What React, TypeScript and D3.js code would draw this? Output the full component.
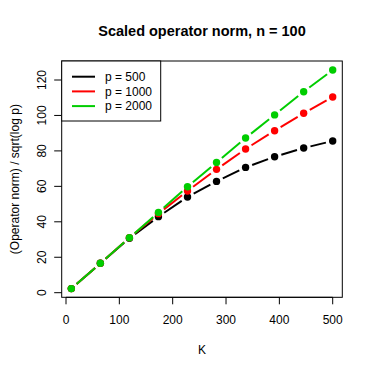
import React from "react";
import * as d3 from "d3";

const kValues = [10, 64.4, 118.9, 173.3, 227.8, 282.2, 336.7, 391.1, 445.6, 500];
const p500 = [2.3, 16.6, 30.7, 42.9, 54.0, 62.8, 70.7, 76.7, 81.6, 85.6];
const p1000 = [2.3, 16.6, 31.0, 44.6, 57.4, 69.6, 81.1, 91.4, 101.2, 110.4];
const p2000 = [2.3, 16.6, 31.0, 45.3, 59.8, 73.5, 87.3, 100.3, 113.4, 125.6];
const seriesNames = ["p = 500", "p = 1000", "p = 2000"];
const seriesColors = ["#000000", "#ff0000", "#00cd00"];
const xTicks = [0, 100, 200, 300, 400, 500];
const yTicks = [0, 20, 40, 60, 80, 100, 120];

const W = 374;
const H = 374;
const box = { left: 61.7, right: 342.3, top: 61, bottom: 297.3 };
const font = "Liberation Sans, Arial, Helvetica, sans-serif";

export default function App() {
  const x = d3.scaleLinear().domain([0, 500]).range([66, 332.7]);
  const y = d3.scaleLinear().domain([0, 120]).range([292.7, 80]);
  const series = [p500, p1000, p2000];
  const gap = 7; // type="b" leaves a gap around each point

  return (
    <svg width={W} height={H} style={{ position: "absolute", left: 0, top: 0 }} fontFamily={font}>
      <rect width={W} height={H} fill="#fff" />
      <text x={(box.left + box.right) / 2} y={36} textAnchor="middle" fontSize={14.5} fontWeight="bold">
        Scaled operator norm, n = 100
      </text>

      {/* series: segments with gaps, then points */}
      {series.map((vals, s) => (
        <g key={s}>
          {vals.slice(1).map((v, i) => {
            const x0 = x(kValues[i]), y0 = y(vals[i]);
            const x1 = x(kValues[i + 1]), y1 = y(v);
            const len = Math.hypot(x1 - x0, y1 - y0);
            if (len <= 2 * gap) return null;
            const ux = (x1 - x0) / len, uy = (y1 - y0) / len;
            return (
              <line key={i}
                x1={x0 + ux * gap} y1={y0 + uy * gap}
                x2={x1 - ux * gap} y2={y1 - uy * gap}
                stroke={seriesColors[s]} strokeWidth={2} />
            );
          })}
          {vals.map((v, i) => (
            <circle key={i} cx={x(kValues[i])} cy={y(v)} r={3.7} fill={seriesColors[s]} />
          ))}
        </g>
      ))}

      <rect x={box.left} y={box.top} width={box.right - box.left} height={box.bottom - box.top}
        fill="none" stroke="#000" strokeWidth={1} />

      {/* x axis */}
      <line x1={x(0)} x2={x(500)} y1={box.bottom} y2={box.bottom} stroke="#000" />
      {xTicks.map((t) => (
        <g key={t}>
          <line x1={x(t)} x2={x(t)} y1={box.bottom} y2={box.bottom + 7} stroke="#000" />
          <text x={x(t)} y={324} textAnchor="middle" fontSize={12}>{t}</text>
        </g>
      ))}
      <text x={(box.left + box.right) / 2} y={354} textAnchor="middle" fontSize={12}>K</text>

      {/* y axis */}
      {yTicks.map((t) => (
        <g key={t}>
          <line x1={box.left - 7.5} x2={box.left} y1={y(t)} y2={y(t)} stroke="#000" />
          <text transform={`translate(45.5,${y(t)}) rotate(-90)`} textAnchor="middle" fontSize={12}>{t}</text>
        </g>
      ))}
      <text transform={`translate(19,${(box.top + box.bottom) / 2}) rotate(-90)`} textAnchor="middle" fontSize={12}>
        (Operator norm) / sqrt(log p)
      </text>

      {/* legend */}
      <rect x={box.left} y={box.top} width={99} height={60} fill="#fff" stroke="#000" />
      {seriesNames.map((n, i) => (
        <g key={n}>
          <line x1={72} x2={95} y1={76.7 + i * 14.7} y2={76.7 + i * 14.7} stroke={seriesColors[i]} strokeWidth={2} />
          <text x={105} y={76.7 + i * 14.7 + 4.3} fontSize={12}>{n}</text>
        </g>
      ))}
    </svg>
  );
}
